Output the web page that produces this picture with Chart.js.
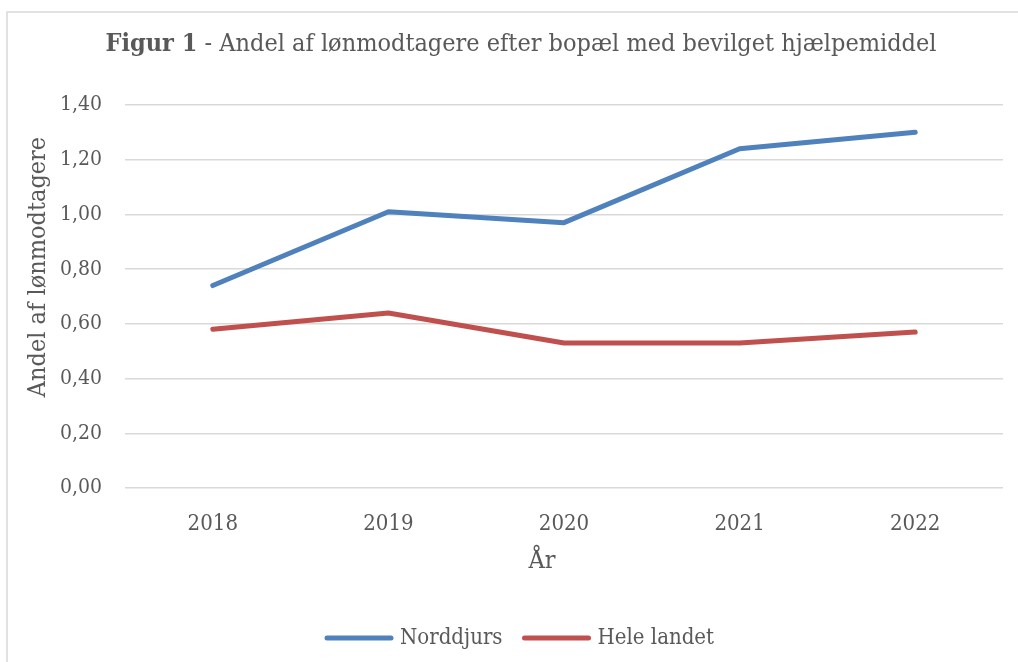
<!DOCTYPE html>
<html>
<head>
<meta charset="utf-8">
<script src="https://cdn.jsdelivr.net/npm/chart.js@4"></script>
<style>
  html, body { margin: 0; padding: 0; background: #fff; }
  #wrap { width: 1018px; height: 662px; }
</style>
</head>
<body>
<div id="wrap"><canvas id="chart" width="1018" height="662"></canvas></div>
<script>
// data
const years = ['2018', '2019', '2020', '2021', '2022'];
const norddjurs = [0.74, 1.01, 0.97, 1.24, 1.30];
const heleLandet = [0.58, 0.64, 0.53, 0.53, 0.57];
const seriesNames = ['Norddjurs', 'Hele landet'];
const yMin = 0, yMax = 1.4, yStep = 0.2;

const FONT = "'DejaVu Serif Condensed', 'Liberation Serif', serif";
const TEXT = '#595959';
const BLUE = '#4f81bd';
const RED = '#c0504d';

// titles, frame and legend drawn by hand (Excel look)
const decorPlugin = {
    id: 'decor',
    beforeDraw(chart) {
        const ctx = chart.ctx;
        ctx.save();
        ctx.strokeStyle = '#d9d9d9';
        ctx.lineWidth = 1.5;
        ctx.beginPath();
        ctx.moveTo(7, 700);
        ctx.lineTo(7, 12);
        ctx.lineTo(1030, 12);
        ctx.stroke();
        ctx.restore();
    },
    afterDraw(chart) {
        const ctx = chart.ctx;
        ctx.save();
        ctx.fillStyle = TEXT;
        ctx.textBaseline = 'middle';

        // main title, "Figur 1" in bold
        const boldPart = 'Figur 1';
        const restPart = ' - Andel af lønmodtagere efter bopæl med bevilget hjælpemiddel';
        ctx.font = 'bold 25px ' + FONT;
        const wBold = ctx.measureText(boldPart).width;
        ctx.font = '25px ' + FONT;
        const wRest = ctx.measureText(restPart).width;
        let x = 521 - (wBold + wRest) / 2;
        ctx.textAlign = 'left';
        ctx.font = 'bold 25px ' + FONT;
        ctx.fillText(boldPart, x, 44);
        ctx.font = '25px ' + FONT;
        ctx.fillText(restPart, x + wBold, 44);

        // y axis title
        ctx.save();
        ctx.translate(38, 267);
        ctx.rotate(-Math.PI / 2);
        ctx.textAlign = 'center';
        ctx.font = '25px ' + FONT;
        ctx.fillText('Andel af lønmodtagere', 0, 0);
        ctx.restore();

        // x axis title
        ctx.textAlign = 'center';
        ctx.font = '25px ' + FONT;
        ctx.fillText('År', 542, 561);

        // legend
        ctx.font = '22px ' + FONT;
        ctx.textAlign = 'left';
        ctx.lineCap = 'round';
        ctx.lineWidth = 5;
        let lx = 327;
        chart.data.datasets.forEach((ds) => {
            ctx.strokeStyle = ds.borderColor;
            ctx.beginPath();
            ctx.moveTo(lx, 638);
            ctx.lineTo(lx + 64, 638);
            ctx.stroke();
            ctx.fillText(ds.label, lx + 73, 638);
            lx += 73 + ctx.measureText(ds.label).width + 22;
        });
        ctx.restore();
    }
};

const ctx = document.getElementById('chart').getContext('2d');
const chart = new Chart(ctx, {
    type: 'line',
    data: {
        labels: years,
        datasets: [
            { label: seriesNames[0], data: norddjurs, borderColor: BLUE, backgroundColor: BLUE, borderWidth: 5, pointRadius: 0, tension: 0, borderCapStyle: 'round', borderJoinStyle: 'round' },
            { label: seriesNames[1], data: heleLandet, borderColor: RED, backgroundColor: RED, borderWidth: 5, pointRadius: 0, tension: 0, borderCapStyle: 'round', borderJoinStyle: 'round' }
        ]
    },
    options: {
        responsive: false,
        animation: false,
        devicePixelRatio: 1,
        layout: { padding: { top: 105, left: 0, right: 15, bottom: 114 } },
        plugins: {
            legend: { display: false },
            title: { display: false },
            tooltip: { enabled: false }
        },
        scales: {
            x: {
                offset: true,
                grid: { display: false },
                border: { display: false },
                ticks: { color: TEXT, font: { family: FONT, size: 22 }, padding: 15, maxRotation: 0 },
                afterFit: (s) => { s.height = 60; }
            },
            y: {
                min: yMin,
                max: yMax,
                grid: { color: '#d9d9d9', lineWidth: 1.5, drawTicks: false },
                border: { display: false },
                ticks: {
                    stepSize: yStep,
                    color: TEXT,
                    font: { family: FONT, size: 21 },
                    padding: 23,
                    callback: (v) => v.toFixed(2).replace('.', ',')
                },
                afterFit: (s) => { s.width = 125; }
            }
        }
    },
    plugins: [decorPlugin]
});
</script>
</body>
</html>
